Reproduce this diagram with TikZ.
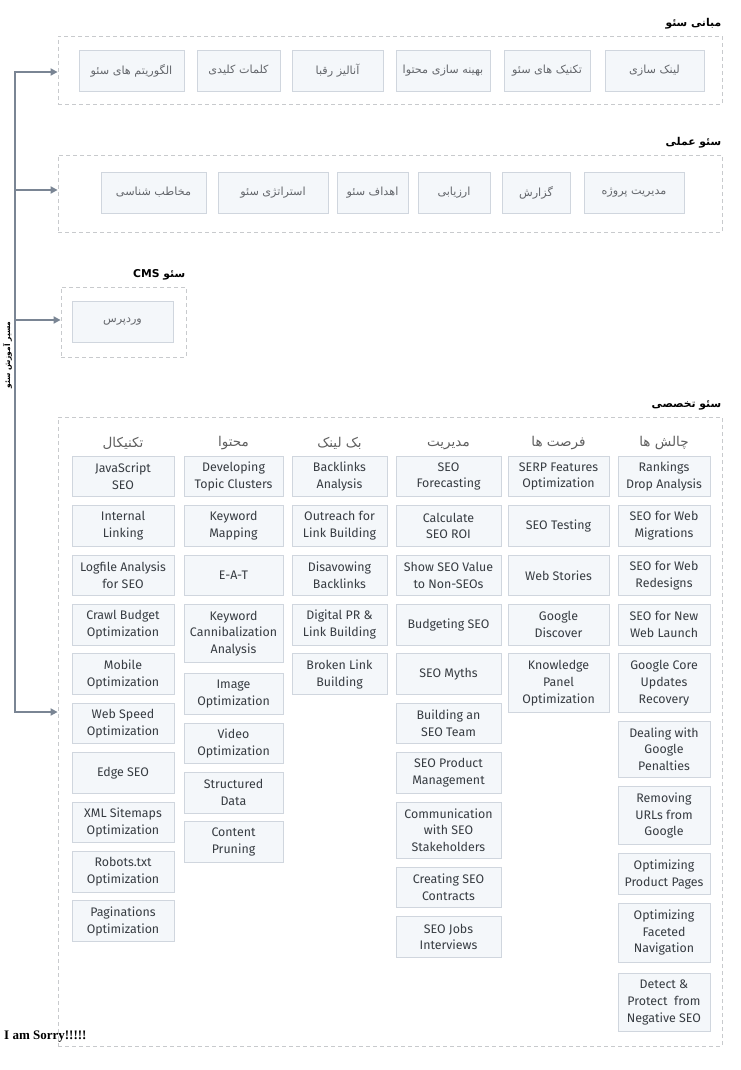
\documentclass[tikz,border=0pt]{standalone}
\usepackage{fontspec}
\setmainfont{Fira Sans}
\newfontfamily\farsi[Script=Arabic]{DejaVu Sans}
\newfontfamily\sorryfont{Liberation Serif}
\TeXXeTstate=1
\usetikzlibrary{arrows.meta, positioning}
\definecolor{boxfill}{RGB}{244,247,250}
\definecolor{boxline}{RGB}{208,214,222}
\definecolor{entext}{RGB}{55,60,66}
\definecolor{fatext}{RGB}{100,103,108}
\definecolor{headgray}{RGB}{95,95,95}
\definecolor{framegray}{RGB}{200,202,205}
\definecolor{spinegray}{RGB}{122,133,148}
\newcommand{\fatxt}[1]{\beginR #1\endR}

\begin{document}
\begin{tikzpicture}[
    x=1pt, y=-1pt,
    font=\fontsize{12.4}{16.8}\selectfont,
    frame/.style={draw=framegray, dash pattern=on 4pt off 3pt, line width=0.8pt},
    fabox/.style={draw=boxline, fill=boxfill, line width=0.9pt, minimum height=41pt,
                  text=fatext, font=\farsi\fontsize{11.2}{14}\selectfont},
    enbox/.style={draw=boxline, fill=boxfill, line width=0.9pt, minimum height=40.5pt,
                  align=center, inner ysep=5.1pt, inner xsep=2pt, text=entext},
    tall/.style={inner ysep=6.4pt},
    title/.style={font=\farsi\bfseries\fontsize{10.8}{12}\selectfont, anchor=south east,
                  inner sep=1pt, yshift=5pt},
    colhead/.style={font=\farsi\fontsize{13.5}{15}\selectfont, text=headgray, inner sep=1pt},
    spine/.style={draw=spinegray, line width=2.4pt},
    tip/.style={-{Triangle[length=7pt, width=7pt]}},
  ]
  \useasboundingbox (0,0) rectangle (740,1070);
  % frames
  \node[frame, minimum width=664, minimum height=68]  (f1) at (390,70)    {};
  \node[frame, minimum width=664, minimum height=77]  (f2) at (390,193.5) {};
  \node[frame, minimum width=125, minimum height=70]  (f3) at (123.5,322) {};
  \node[frame, minimum width=664, minimum height=629] (f4) at (390,731.5) {};
  \node[title] at (f1.north east) {\fatxt{مبانی سئو}};
  \node[title] at (f2.north east) {\fatxt{سئو عملی}};
  \node[title] at (f3.north east) {\fatxt{سئو \beginL CMS\endL}};
  \node[title] at (f4.north east) {\fatxt{سئو تخصصی}};
  % mabani
  \node[fabox, minimum width=99]  (ba1) at (654.5,70.5) {\fatxt{لینک سازی}};
  \node[fabox, minimum width=86]  (ba2) at (547,70.5)   {\fatxt{تکنیک های سئو}};
  \node[fabox, minimum width=94]  (ba3) at (443,70.5)   {\fatxt{بهینه سازی محتوا}};
  \node[fabox, minimum width=91]  (ba4) at (337.5,70.5) {\fatxt{آنالیز رقبا}};
  \node[fabox, minimum width=83]  (ba5) at (238.5,70.5) {\fatxt{کلمات کلیدی}};
  \node[fabox, minimum width=105] (ba6) at (131.5,70.5) {\fatxt{الگوریتم های سئو}};
  % amali
  \node[fabox, minimum width=100] (bo1) at (634,192.5)   {\fatxt{مدیریت پروژه}};
  \node[fabox, minimum width=68]  (bo2) at (536,192.5)   {\fatxt{گزارش}};
  \node[fabox, minimum width=72]  (bo3) at (454,192.5)   {\fatxt{ارزیابی}};
  \node[fabox, minimum width=71]  (bo4) at (372.5,192.5) {\fatxt{اهداف سئو}};
  \node[fabox, minimum width=110] (bo5) at (273,192.5)   {\fatxt{استراتژی سئو}};
  \node[fabox, minimum width=105] (bo6) at (153.5,192.5) {\fatxt{مخاطب شناسی}};
  % cms
  \node[fabox, minimum width=101] (wp) at (122.5,321.5) {\fatxt{وردپرس}};
  % takhassosi: first row
  \node[enbox, minimum width=102] (t1) at (123,476.5)   {JavaScript\\SEO};
  \node[enbox, minimum width=99]  (c1) at (233.5,476.5) {Developing\\Topic Clusters};
  \node[enbox, minimum width=95]  (l1) at (339.5,476.5) {Backlinks\\Analysis};
  \node[enbox, minimum width=105] (m1) at (448.5,476.5) {SEO\\Forecasting};
  \node[enbox, minimum width=101] (o1) at (558.5,476.5) {SERP Features\\Optimization};
  \node[enbox, minimum width=92]  (h1) at (664,476.5)   {Rankings\\Drop Analysis};
  \node[colhead, above=5pt of t1] (ht) {\fatxt{تکنیکال}};
  \node[colhead, above=5pt of c1] (hc) {\fatxt{محتوا}};
  \node[colhead, above=5pt of l1] (hl) {\fatxt{بک لینک}};
  \node[colhead, above=5pt of m1] (hm) {\fatxt{مدیریت}};
  \node[colhead, above=5pt of o1] (ho) {\fatxt{فرصت ها}};
  \node[colhead, above=5pt of h1] (hh) {\fatxt{چالش ها}};
  % technical
  \node[enbox, minimum width=102, below=8pt of t1] (t2)  {Internal\\Linking};
  \node[enbox, minimum width=102, below=8pt of t2] (t3)  {Logfile Analysis\\for SEO};
  \node[enbox, minimum width=102, below=8pt of t3] (t4)  {Crawl Budget\\Optimization};
  \node[enbox, minimum width=102, below=8pt of t4] (t5)  {Mobile\\Optimization};
  \node[enbox, minimum width=102, below=8pt of t5] (t6)  {Web Speed\\Optimization};
  \node[enbox, minimum width=102, below=8pt of t6] (t7)  {Edge SEO};
  \node[enbox, minimum width=102, below=8pt of t7] (t8)  {XML Sitemaps\\Optimization};
  \node[enbox, minimum width=102, below=8pt of t8] (t9)  {Robots.txt\\Optimization};
  \node[enbox, minimum width=102, below=8pt of t9] (t10) {Paginations\\Optimization};
  % content
  \node[enbox, minimum width=99, below=8pt of c1] (c2) {Keyword\\Mapping};
  \node[enbox, minimum width=99, below=8pt of c2] (c3) {E-A-T};
  \node[enbox, tall, minimum width=99, below=8pt of c3] (c4) {Keyword\\Cannibalization\\Analysis};
  \node[enbox, minimum width=99, below=10pt of c4] (c5) {Image\\Optimization};
  \node[enbox, minimum width=99, below=8pt of c5] (c6) {Video\\Optimization};
  \node[enbox, minimum width=99, below=8pt of c6] (c7) {Structured\\Data};
  \node[enbox, minimum width=99, below=8pt of c7] (c8) {Content\\Pruning};
  % backlinks
  \node[enbox, minimum width=95, below=8pt of l1] (l2) {Outreach for\\Link Building};
  \node[enbox, minimum width=95, below=8pt of l2] (l3) {Disavowing\\Backlinks};
  \node[enbox, minimum width=95, below=8pt of l3] (l4) {Digital PR \&\\Link Building};
  \node[enbox, minimum width=95, below=8pt of l4] (l5) {Broken Link\\Building};
  % management
  \node[enbox, minimum width=105, below=8pt of m1] (m2)  {Calculate\\SEO ROI};
  \node[enbox, minimum width=105, below=8pt of m2] (m3)  {Show SEO Value\\to Non-SEOs};
  \node[enbox, minimum width=105, below=8pt of m3] (m4)  {Budgeting SEO};
  \node[enbox, minimum width=105, below=8pt of m4] (m5)  {SEO Myths};
  \node[enbox, minimum width=105, below=8pt of m5] (m6)  {Building an\\SEO Team};
  \node[enbox, minimum width=105, below=8pt of m6] (m7)  {SEO Product\\Management};
  \node[enbox, tall, minimum width=105, below=8pt of m7] (m8)  {Communication\\with SEO\\Stakeholders};
  \node[enbox, minimum width=105, below=8pt of m8] (m9)  {Creating SEO\\Contracts};
  \node[enbox, minimum width=105, below=8pt of m9] (m10) {SEO Jobs\\Interviews};
  % opportunities
  \node[enbox, minimum width=101, below=8pt of o1] (o2) {SEO Testing};
  \node[enbox, minimum width=101, below=8pt of o2] (o3) {Web Stories};
  \node[enbox, minimum width=101, below=8pt of o3] (o4) {Google\\Discover};
  \node[enbox, tall, minimum width=101, below=8pt of o4] (o5) {Knowledge\\Panel\\Optimization};
  % challenges
  \node[enbox, minimum width=92, below=8pt of h1] (h2)  {SEO for Web\\Migrations};
  \node[enbox, minimum width=92, below=8pt of h2] (h3)  {SEO for Web\\Redesigns};
  \node[enbox, minimum width=92, below=8pt of h3] (h4)  {SEO for New\\Web Launch};
  \node[enbox, tall, minimum width=92, below=8pt of h4] (h5)  {Google Core\\Updates\\Recovery};
  \node[enbox, tall, minimum width=92, below=8pt of h5] (h6)  {Dealing with\\Google\\Penalties};
  \node[enbox, tall, minimum width=92, below=8pt of h6] (h7)  {Removing\\URLs from\\Google};
  \node[enbox, minimum width=92, below=8pt of h7] (h8)  {Optimizing\\Product Pages};
  \node[enbox, tall, minimum width=92, below=8pt of h8] (h9)  {Optimizing\\Faceted\\Navigation};
  \node[enbox, tall, minimum width=92, below=11pt of h9] (h10) {Detect \&\\Protect~ from\\Negative SEO};
  % learning path
  \coordinate (s1) at (15,72);
  \coordinate (s2) at (15,190);
  \coordinate (s3) at (15,320);
  \coordinate (s4) at (15,712);
  \draw[spine, {Triangle[length=7pt, width=7pt]}-{Triangle[length=7pt, width=7pt]}]
    (s1 -| f1.west) -- (s1) -- (s4) -- (s4 -| f4.west);
  \draw[spine, tip] (s2) -- (s2 -| f2.west);
  \draw[spine, tip] (s3) -- (s3 -| f3.west);
  \node[rotate=90, font=\farsi\bfseries\fontsize{7.5}{9}\selectfont, inner sep=1pt]
    (path) at (7.5,355) {\fatxt{مسیر آموزش سئو}};
  \node[font=\sorryfont\bfseries\fontsize{13}{14}\selectfont, anchor=west, inner sep=0pt]
    (sorry) at (4,1037) {I am Sorry!!!!!};
\end{tikzpicture}
\end{document}
